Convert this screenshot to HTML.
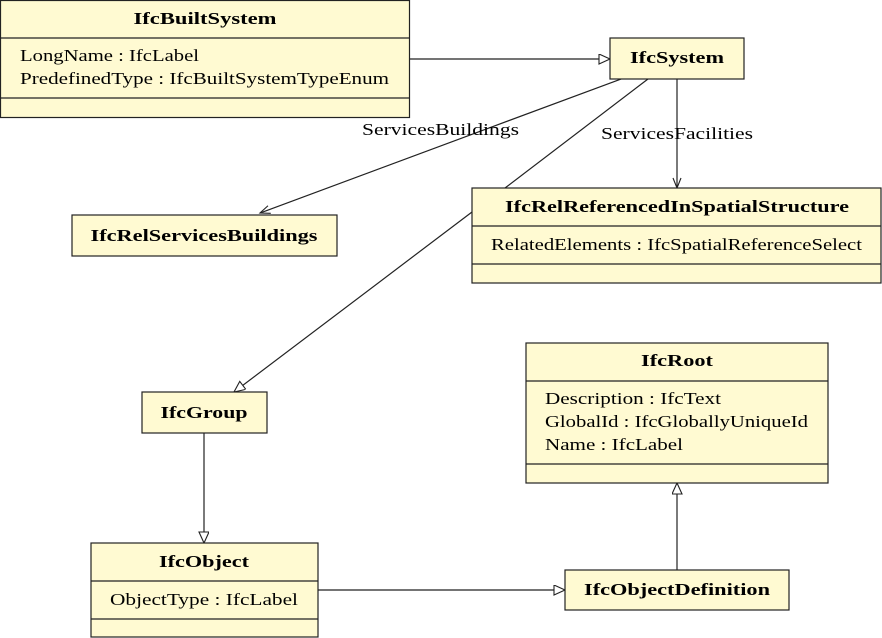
<!DOCTYPE html>
<html><head><style>body{margin:0;background:#fff}svg{display:block}text{font-family:"Liberation Serif",serif;font-size:17px;fill:#000}.b{font-weight:bold;text-anchor:middle}.c{text-anchor:middle}rect{fill:#fffad2;stroke:#222;stroke-width:1.2}line{stroke:#222;stroke-width:1.2}</style></head><body>
<svg width="882" height="638" viewBox="0 0 882 638">
<defs>
<marker id="tri" markerWidth="14" markerHeight="12" refX="12" refY="5" orient="auto" markerUnits="userSpaceOnUse"><path d="M1,0 L12,5 L1,10 Z" fill="#fff" stroke="#222" stroke-width="1.1"/></marker>
<marker id="opn" markerWidth="14" markerHeight="12" refX="11" refY="5" orient="auto" markerUnits="userSpaceOnUse"><path d="M1,1 L11,5 L1,9" fill="none" stroke="#222" stroke-width="1.1"/></marker>
</defs>
<line x1="409" y1="59" x2="610" y2="59" marker-end="url(#tri)"/>
<line x1="621" y1="79" x2="260" y2="213" marker-end="url(#opn)"/>
<line x1="677" y1="79" x2="677" y2="188" marker-end="url(#opn)"/>
<line x1="648" y1="79" x2="505" y2="188"/>
<line x1="472" y1="212" x2="234" y2="392" marker-end="url(#tri)"/>
<line x1="204" y1="433" x2="204" y2="543" marker-end="url(#tri)"/>
<line x1="318" y1="590" x2="565" y2="590" marker-end="url(#tri)"/>
<line x1="677" y1="570" x2="677" y2="483" marker-end="url(#tri)"/>
<text x="362" y="135" textLength="157" lengthAdjust="spacingAndGlyphs">ServicesBuildings</text>
<text x="601" y="139" textLength="152" lengthAdjust="spacingAndGlyphs">ServicesFacilities</text>

<rect x="0.5" y="0.5" width="409" height="117"/>
<line x1="0" y1="38" x2="409" y2="38"/><line x1="0" y1="98" x2="409" y2="98"/>
<text x="205" y="24" class="b" textLength="143" lengthAdjust="spacingAndGlyphs">IfcBuiltSystem</text>
<text x="20" y="61" textLength="179" lengthAdjust="spacingAndGlyphs">LongName : IfcLabel</text>
<text x="20" y="84" textLength="369" lengthAdjust="spacingAndGlyphs">PredefinedType : IfcBuiltSystemTypeEnum</text>

<rect x="610" y="38" width="134" height="41"/>
<text x="677" y="63" class="b" textLength="94" lengthAdjust="spacingAndGlyphs">IfcSystem</text>

<rect x="72" y="215" width="265" height="41"/>
<text x="204" y="241" class="b" textLength="227" lengthAdjust="spacingAndGlyphs">IfcRelServicesBuildings</text>

<rect x="472" y="188" width="409" height="95"/>
<line x1="472" y1="226" x2="881" y2="226"/><line x1="472" y1="264" x2="881" y2="264"/>
<text x="677" y="212" class="b" textLength="344" lengthAdjust="spacingAndGlyphs">IfcRelReferencedInSpatialStructure</text>
<text x="491" y="250" textLength="371" lengthAdjust="spacingAndGlyphs">RelatedElements : IfcSpatialReferenceSelect</text>

<rect x="142" y="392" width="125" height="41"/>
<text x="204" y="418" class="b" textLength="87" lengthAdjust="spacingAndGlyphs">IfcGroup</text>

<rect x="526" y="343" width="302" height="140"/>
<line x1="526" y1="381" x2="828" y2="381"/><line x1="526" y1="464" x2="828" y2="464"/>
<text x="677" y="366" class="b" textLength="72" lengthAdjust="spacingAndGlyphs">IfcRoot</text>
<text x="545" y="404" textLength="176" lengthAdjust="spacingAndGlyphs">Description : IfcText</text>
<text x="545" y="427" textLength="263" lengthAdjust="spacingAndGlyphs">GlobalId : IfcGloballyUniqueId</text>
<text x="545" y="450" textLength="138" lengthAdjust="spacingAndGlyphs">Name : IfcLabel</text>

<rect x="91" y="543" width="227" height="94"/>
<line x1="91" y1="581" x2="318" y2="581"/><line x1="91" y1="619" x2="318" y2="619"/>
<text x="204" y="567" class="b" textLength="90" lengthAdjust="spacingAndGlyphs">IfcObject</text>
<text x="110" y="605" textLength="188" lengthAdjust="spacingAndGlyphs">ObjectType : IfcLabel</text>

<rect x="565" y="570" width="224" height="40"/>
<text x="677" y="595" class="b" textLength="186" lengthAdjust="spacingAndGlyphs">IfcObjectDefinition</text>
</svg>
</body></html>
